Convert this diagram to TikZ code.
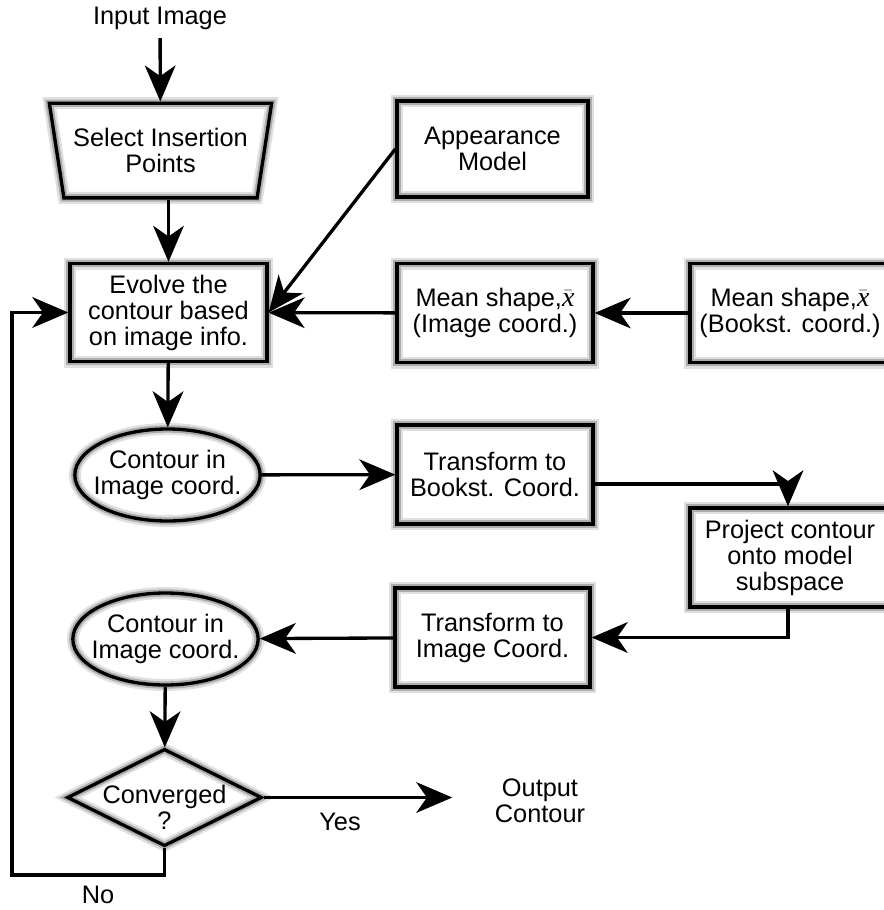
\documentclass[tikz,border=0pt]{standalone}
\usepackage{fontspec}
\setmainfont{Liberation Sans}
\newfontfamily\xfont{Liberation Serif}
\usetikzlibrary{shapes.geometric,arrows.meta}

\newcommand{\xbar}{$\bar{\mbox{\fontsize{21pt}{21pt}\xfont\itshape x}}$}

\tikzset{every picture/.style={line width=2.5pt}}
\tikzset{
  glow/.style={preaction={draw=black!12,line width=9pt},preaction={draw=black!32,line width=5.5pt}},
  box/.style={draw,glow,rectangle,minimum width=147pt,minimum height=74.25pt,inner sep=1pt,align=center},
  oval/.style={draw,glow,ellipse,minimum width=139pt,minimum height=69pt,inner xsep=-10pt,inner ysep=0pt,align=center},
  decision/.style={draw,glow,diamond,aspect=2,minimum width=146pt,minimum height=73pt,inner xsep=-8pt,inner ysep=-14pt,align=center},
  io/.style={draw,glow,trapezium,trapezium angle=75,trapezium stretches=true,shape border rotate=180,minimum width=167pt,minimum height=71pt,inner xsep=-6pt,inner ysep=0pt,align=center},
  txt/.style={inner sep=0.75pt,align=center},
  arr/.style={-{Stealth[length=27pt,width=23pt,inset=8pt]}}
}

\begin{document}
\begin{tikzpicture}[x=0.75pt,y=0.75pt,yscale=-1,xscale=1,font=\fontsize{19pt}{19.5pt}\selectfont]
%set diagram size to 884 x 910
\useasboundingbox (0,0) rectangle (884,910);

% Left column
\node[txt] (inp) at (160,18) {Input Image};
\node[io] (sel) at (160.5,150.5) {Select Insertion\\Points};
\node[box,minimum width=147.75pt,minimum height=73.5pt] (evo) at (168.5,312.5) {Evolve the\\contour based\\on image info.};
\node[oval] (con1) at (167.5,475) {Contour in\\Image coord.};
\node[oval] (con2) at (165.5,639) {Contour in\\Image coord.};
\node[decision] (conv) at (164.5,797.5) {\rule{0pt}{29pt}Converged\\?};

% Middle and right columns
\node[box,minimum width=143.25pt,minimum height=72pt] (app) at (492.5,149) {Appearance\\Model};
\node[box] (meanimg) at (495,313) {Mean shape,\xbar\\(Image coord.)};
\node[box,minimum width=150pt] (meanbk) at (790,313) {Mean shape,\xbar\\(Bookst. coord.)};
\node[box] (tbk) at (495,474.5) {Transform to\\Bookst. Coord.};
\node[box,minimum width=150pt] (proj) at (790,557.5) {Project contour\\onto model\\subspace};
\node[box,minimum width=146.25pt] (timg) at (492.5,637.5) {Transform to\\Image Coord.};
\node[txt] (out) at (540,801) {Output\\Contour};

% Labels
\node[txt] (yes) at (340,822) {Yes};
\node[txt] (no) at (98,895) {No};
\coordinate (loop) at (12,875);

% Connectors
\draw[arr,shorten <=4.5pt] (inp) -- (sel);
\draw[arr] (sel.south -| evo.north) -- (evo.north);
\draw[arr] (evo) -- (con1);
\draw[arr] (app.west) -- (evo.east);
\draw[arr] (meanimg) -- (evo);
\draw[arr] (meanbk) -- (meanimg);
\draw[arr] (con1) -- (tbk);
\draw[arr] ([yshift=7pt]tbk.east) -| ([xshift=-1.5pt]proj.north);
\draw[arr] ([xshift=-1.5pt]proj.south) |- (timg.east);
\draw[arr] (timg) -- (con2);
\draw[arr] (con2) -- (conv);
\draw[arr,shorten >=30pt] (conv.east) -- (conv.east -| out.west);
\draw[arr] (conv.south) |- (loop) |- (evo.west);

\end{tikzpicture}
\end{document}
